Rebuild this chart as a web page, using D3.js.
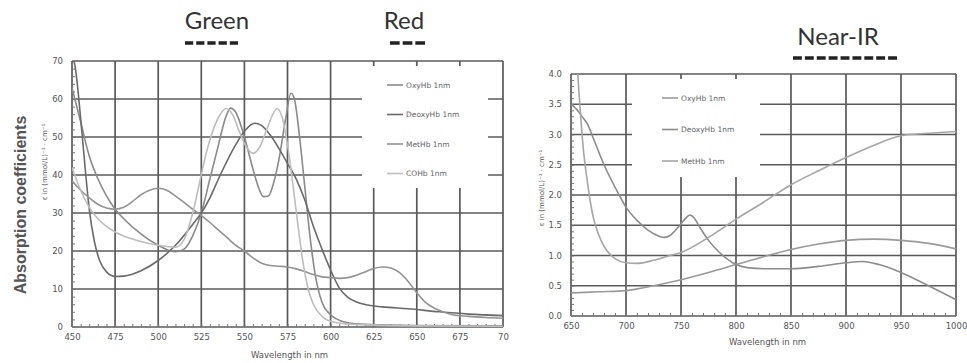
<!DOCTYPE html>
<html>
<head>
<meta charset="utf-8">
<script src="https://cdn.jsdelivr.net/npm/d3@7"></script>
<style>
  body { margin: 0; background: #fff; }
  svg { display: block; }
</style>
</head>
<body>
<svg id="chart" width="967" height="363"></svg>
<script>
// ---- data: [wavelength nm, epsilon] ----
const visOxyHb = [[450,63],[455,54],[460,45],[465,39],[470,34.5],[475,31],[480,28.5],[490,24.5],[500,21.5],[510,19.8],[515,20.5],[520,24],[525,30],[530,39],[535,48],[539,55],[542,57.6],[545,56.5],[550,50],[555,41.5],[558,37],[561,34.3],[564,34.5],[567,38],[570,44],[574,55],[577,61.5],[579,60],[582,50],[585,37],[588,24],[591,14],[595,6.5],[600,3.2],[605,1.8],[610,1.1],[620,0.7],[650,0.4],[700,0.3]];
const visDeoxyHb = [[450,72],[452,68],[455,55],[458,40],[460,31],[463,22.5],[466,17.5],[470,14.5],[475,13.3],[480,13.4],[490,14.8],[500,17.5],[510,21.5],[520,27],[525,30],[530,34],[536,40],[545,48],[550,51.5],[556,53.6],[560,53],[565,50.5],[570,47],[575,43],[580,39],[585,33.5],[590,26.5],[595,20.5],[600,15],[605,10.3],[610,7.8],[615,6.6],[620,5.9],[630,5.3],[645,4.8],[663,4],[680,3.4],[700,3]];
const visMetHb = [[450,38.5],[455,36],[460,34],[465,32.3],[470,31.3],[475,31],[480,31.5],[485,33],[490,34.8],[495,36],[500,36.5],[505,36],[510,34.5],[515,32.8],[520,31],[525,29.3],[530,27.5],[535,25.5],[540,23.5],[545,21.5],[550,20],[555,18.2],[560,16.8],[565,16.2],[570,16],[575,15.8],[580,15.3],[585,14.6],[590,13.8],[595,13.2],[600,13],[605,12.8],[610,13],[615,13.6],[620,14.5],[625,15.4],[630,15.8],[635,15.5],[640,14.3],[645,12],[650,9],[655,6.5],[660,5],[665,4],[670,3.3],[680,2.8],[690,2.5],[700,2.3]];
const visCOHb = [[450,42],[455,36],[460,31.5],[465,28.5],[470,26.5],[475,25],[490,22.5],[500,21.5],[510,21],[515,23],[520,30],[524,38],[528,46],[532,52],[536,56],[539.5,57.5],[543,56],[547,51.5],[551,47.5],[555,45.7],[559,47.5],[563,52],[566,55.5],[569,57.5],[572,55],[575,48],[578,38],[581,27],[584,17],[587,10],[590,6],[595,2.8],[600,1.5],[610,0.8],[625,0.5],[650,0.3],[700,0.2]];

const nirOxyHb = [[650,0.38],[675,0.4],[700,0.42],[725,0.5],[750,0.6],[775,0.72],[800,0.85],[825,0.98],[850,1.1],[875,1.19],[900,1.25],[925,1.27],[950,1.25],[975,1.2],[1000,1.11]];
const nirDeoxyHb = [[650,3.5],[655,3.42],[660,3.3],[665,3.17],[670,2.95],[680,2.5],[690,2.13],[700,1.8],[710,1.58],[720,1.42],[730,1.32],[735,1.3],[740,1.33],[748,1.48],[755,1.63],[758,1.67],[762,1.62],[767,1.47],[775,1.25],[785,1.05],[797,0.88],[810,0.8],[830,0.78],[850,0.78],[875,0.82],[900,0.88],[915,0.9],[930,0.85],[950,0.72],[975,0.5],[1000,0.27]];
const nirMetHb = [[650,5.5],[655,4.3],[658,3.5],[661,2.8],[665,2.2],[670,1.65],[675,1.35],[680,1.15],[690,0.95],[700,0.88],[710,0.87],[725,0.92],[740,1],[750,1.05],[775,1.3],[800,1.6],[825,1.88],[850,2.17],[875,2.4],[900,2.62],[925,2.82],[950,2.98],[975,3.02],[1000,3.05]];

const visTicksX = [450,475,500,525,550,575,600,625,650,675,700];
const visTickLabelsX = ['450','475','500','525','550','575','600','625','650','675','70'];
const visTicksY = [0,10,20,30,40,50,60,70];
const nirTicksX = [650,700,750,800,850,900,950,1000];
const nirTicksY = [0,0.5,1,1.5,2,2.5,3,3.5,4];

const visLegend = ['OxyHb 1nm','DeoxyHb 1nm','MetHb 1nm','COHb 1nm'];
const nirLegend = ['OxyHb 1nm','DeoxyHb 1nm','MetHb 1nm'];

window.Spectra = window.Spectra || {};

Spectra.init = function() {
    Spectra.setup.initConst();
    Spectra.setup.initObjects();
    Spectra.core.draw();
};

Spectra.core = {
    draw: function() {
        Spectra.core.drawPanel(Spectra.vis);
        Spectra.core.drawPanel(Spectra.nir);
        Spectra.core.drawTitles();
        Spectra.svg.append('text')
            .attr('transform', 'translate(26,205) rotate(-90)')
            .attr('text-anchor', 'middle')
            .attr('font-family', 'Liberation Sans, Arial, sans-serif')
            .attr('font-size', 16).attr('font-weight', 'bold')
            .attr('fill', '#555')
            .text('Absorption coefficients');
    },

    drawPanel: function(p) {
        let g = Spectra.svg.append('g');
        let x = d3.scaleLinear().domain(p.xDomain).range([p.left, p.right]);
        let y = d3.scaleLinear().domain(p.yDomain).range([p.bottom, p.top]);

        // grid
        g.selectAll('.vg').data(p.ticksX).enter().append('line')
            .attr('x1', d => x(d)).attr('x2', d => x(d))
            .attr('y1', p.top).attr('y2', p.bottom)
            .attr('stroke', Spectra.gridColor).attr('stroke-width', 1.7);
        g.selectAll('.hg').data(p.ticksY).enter().append('line')
            .attr('x1', p.left).attr('x2', p.right)
            .attr('y1', d => y(d)).attr('y2', d => y(d))
            .attr('stroke', Spectra.gridColor).attr('stroke-width', 1.7);

        // white legend area
        g.append('rect')
            .attr('x', p.box[0]).attr('y', p.box[1])
            .attr('width', p.box[2] - p.box[0]).attr('height', p.box[3] - p.box[1])
            .attr('fill', '#fff');

        // minor ticks
        g.append('g').attr('transform', 'translate(0,' + p.bottom + ')')
            .call(d3.axisBottom(x).tickValues(d3.range(p.xDomain[0], p.xDomain[1], p.minorX))
                .tickSize(-3).tickFormat(''))
            .call(a => a.select('.domain').remove())
            .call(a => a.selectAll('line').attr('stroke', '#777'));
        g.append('g').attr('transform', 'translate(' + p.left + ',0)')
            .call(d3.axisLeft(y).tickValues(d3.range(p.yDomain[0], p.yDomain[1], p.minorY))
                .tickSize(-3).tickFormat(''))
            .call(a => a.select('.domain').remove())
            .call(a => a.selectAll('line').attr('stroke', '#777'));

        // tick labels
        g.append('g').attr('transform', 'translate(0,' + p.bottom + ')')
            .call(d3.axisBottom(x).tickValues(p.ticksX).tickSize(0).tickPadding(7)
                .tickFormat((d, i) => p.labelsX[i]))
            .call(a => a.select('.domain').remove())
            .call(a => a.selectAll('text').attr('font-family', 'DejaVu Sans, sans-serif')
                .attr('font-size', 8.5).attr('fill', '#555'));
        g.append('g').attr('transform', 'translate(' + p.left + ',0)')
            .call(d3.axisLeft(y).tickValues(p.ticksY).tickSize(0).tickPadding(9)
                .tickFormat(p.formatY))
            .call(a => a.select('.domain').remove())
            .call(a => a.selectAll('text').attr('font-family', 'DejaVu Sans, sans-serif')
                .attr('font-size', 8.5).attr('fill', '#555'));

        // axis titles
        g.append('text')
            .attr('x', (p.left + p.right) / 2 + p.xTitleShift).attr('y', p.xTitleY)
            .attr('text-anchor', 'middle')
            .attr('font-family', 'DejaVu Sans, sans-serif').attr('font-size', 8.5)
            .attr('fill', '#555').text('Wavelength  in nm');
        g.append('text')
            .attr('transform', 'translate(' + p.yTitle[0] + ',' + p.yTitle[1] + ') rotate(-90)')
            .attr('text-anchor', 'middle')
            .attr('font-family', 'DejaVu Sans, sans-serif').attr('font-size', 7)
            .attr('fill', '#555').text('ε in (mmol/L)⁻¹ · cm⁻¹');

        // curves
        let clipId = 'clip-' + p.name;
        Spectra.svg.append('clipPath').attr('id', clipId).append('rect')
            .attr('x', p.left).attr('y', p.top)
            .attr('width', p.right - p.left).attr('height', p.bottom - p.top);
        let line = d3.line().x(d => x(d[0])).y(d => y(d[1])).curve(d3.curveMonotoneX);
        g.append('g').attr('clip-path', 'url(#' + clipId + ')')
            .selectAll('path').data(p.series).enter().append('path')
            .attr('d', s => line(s.values))
            .attr('fill', 'none').attr('stroke', s => s.color).attr('stroke-width', 1.6);

        // legend
        let leg = g.selectAll('.leg').data(p.series).enter().append('g')
            .attr('transform', (s, i) => 'translate(' + p.legendX + ',' + (p.legendY + i * p.legendStep) + ')');
        leg.append('line').attr('x1', 0).attr('x2', 16)
            .attr('stroke', s => s.color).attr('stroke-width', 1.6);
        leg.append('text').attr('x', 19).attr('dy', '0.35em')
            .attr('font-family', 'DejaVu Sans, sans-serif').attr('font-size', 7.5)
            .attr('fill', '#666').text(s => s.label);
    },

    drawTitles: function() {
        Spectra.titles.forEach(t => {
            Spectra.svg.append('text')
                .attr('x', t.x).attr('y', t.y).attr('text-anchor', 'middle')
                .attr('font-family', 'Lato, sans-serif').attr('font-size', 24)
                .attr('fill', '#333').text(t.text);
            // dashed marker under each band name
            let period = (t.dash[1] - t.dash[0] + 3) / t.count;
            Spectra.svg.append('line')
                .attr('x1', t.dash[0]).attr('x2', t.dash[1])
                .attr('y1', t.dashY).attr('y2', t.dashY)
                .attr('stroke', '#222').attr('stroke-width', 3.5)
                .attr('stroke-dasharray', (period - 3) + ',3');
        });
    }
};

Spectra.setup = {
    initConst: function() {
        Spectra.gridColor = '#5a5a5a';
    },

    initObjects: function() {
        Spectra.svg = d3.select('#chart');

        Spectra.vis = {
            name: 'vis', xDomain: [450, 700], yDomain: [0, 70],
            left: 72, right: 503, top: 61, bottom: 327,
            ticksX: visTicksX, labelsX: visTickLabelsX, ticksY: visTicksY,
            formatY: d3.format('d'), minorX: 5, minorY: 2,
            box: [362, 66, 488, 188],
            xTitleShift: 2, xTitleY: 358, yTitle: [47, 162],
            legendX: 387, legendY: 85, legendStep: 29.5,
            series: [
                { label: visLegend[0], values: visOxyHb, color: '#8a8a8a' },
                { label: visLegend[1], values: visDeoxyHb, color: '#6a6a6a' },
                { label: visLegend[2], values: visMetHb, color: '#939393' },
                { label: visLegend[3], values: visCOHb, color: '#bdbdbd' }
            ]
        };

        Spectra.nir = {
            name: 'nir', xDomain: [650, 1000], yDomain: [0, 4],
            left: 571, right: 956, top: 74, bottom: 316,
            ticksX: nirTicksX, labelsX: nirTicksX.map(String), ticksY: nirTicksY,
            formatY: d3.format('.1f'), minorX: 10, minorY: 0.1,
            box: [632, 79, 760, 177],
            xTitleShift: 4, xTitleY: 345, yTitle: [544, 188],
            legendX: 662, legendY: 98, legendStep: 31.5,
            series: [
                { label: nirLegend[0], values: nirOxyHb, color: '#9a9a9a' },
                { label: nirLegend[1], values: nirDeoxyHb, color: '#8c8c8c' },
                { label: nirLegend[2], values: nirMetHb, color: '#a5a5a5' }
            ]
        };

        Spectra.titles = [
            { text: 'Green', x: 217, y: 29, dash: [185, 238], dashY: 43, count: 5 },
            { text: 'Red', x: 404, y: 29, dash: [390, 425], dashY: 43, count: 3 },
            { text: 'Near-IR', x: 838, y: 45, dash: [793, 897], dashY: 58, count: 9 }
        ];
    }
};

Spectra.init();
</script>
</body>
</html>
